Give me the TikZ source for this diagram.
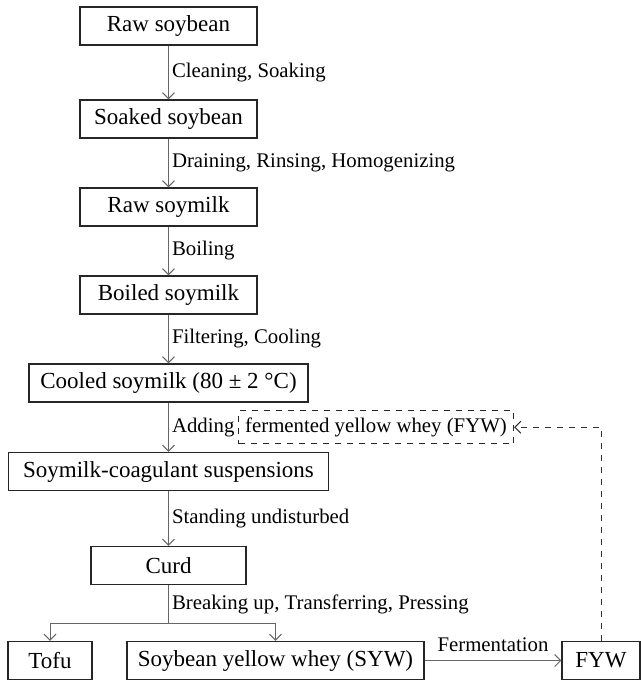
\documentclass[tikz,border=0pt]{standalone}
\usepackage{fontspec}
\setmainfont{Liberation Serif}
\usetikzlibrary{arrows.meta,positioning}

\tikzset{
	stage/.style={draw=black!85, line width=0.6pt, minimum height=19pt, inner sep=0pt, font=\fontsize{11.5}{13}\selectfont},
	proc/.style={right, inner sep=1.5pt, font=\fontsize{10.4}{12}\selectfont},
	flow/.style={draw=black!60, line width=0.5pt, -{Straight Barb[length=3pt,width=6pt]}}
}

\begin{document}
\begin{tikzpicture}[x=0.5pt,y=0.5pt]
			%\draw[help lines] (0, 0) grid (641, -680);
			\useasboundingbox (0,0) rectangle (641,-680);

			\node[stage, minimum width=88.5pt] (raw)     at (168.5, -26)   {Raw soybean};
			\node[stage, minimum width=88.5pt] (soaked)  at (168.5, -119)  {Soaked soybean};
			\node[stage, minimum width=88.5pt] (rawmilk) at (168.5, -207)  {Raw soymilk};
			\node[stage, minimum width=88.5pt] (boiled)  at (168.5, -295)  {Boiled soymilk};
			\node[stage, minimum width=139.5pt] (cooled) at (168.5, -383)  {Cooled soymilk (80 ± 2 °C)};
			\node[stage, minimum width=160pt] (susp)     at (168.5, -471.5) {Soymilk-coagulant suspensions};
			\node[stage, minimum width=77.5pt] (curd)    at (168.5, -565.5) {Curd};
			\node[stage, minimum width=42pt] (tofu)      at (50, -660.5)   {Tofu};
			\node[stage, minimum width=148.5pt] (syw)    at (275.5, -660.5) {Soybean yellow whey (SYW)};
			\node[stage, minimum width=39pt] (fyw)       at (601, -660.5)  {FYW};

			\draw[flow] (raw) -- node[proc] {Cleaning, Soaking} (soaked);
			\draw[flow] (soaked) -- node[proc] {Draining, Rinsing, Homogenizing} (rawmilk);
			\draw[flow] (rawmilk) -- node[proc] {Boiling} (boiled);
			\draw[flow] (boiled) -- node[proc] {Filtering, Cooling} (cooled);
			\draw[flow] (cooled) -- node[proc] (adding) {Adding} (susp);
			\node[stage, dashed, font=\fontsize{10.4}{12}\selectfont, minimum width=137.5pt, minimum height=16.5pt, right=0pt of adding] (fywadd) {fermented yellow whey (FYW)};
			\draw[flow] (susp) -- node[proc] {Standing undisturbed} (curd);

			% curd splits into tofu and whey
			\coordinate (split) at (168.5, -623);
			\draw[draw=black!60, line width=0.5pt] (curd) -- node[proc] {Breaking up, Transferring, Pressing} (split);
			\draw[flow] (split) -| (tofu);
			\draw[flow] (split) -| (syw);

			\draw[flow] (syw) -- node[above=1pt, font=\fontsize{10.4}{12}\selectfont] {Fermentation} (fyw);
			\draw[flow, draw=black!80, dashed] (fyw) |- (fywadd);
		\end{tikzpicture}
\end{document}
